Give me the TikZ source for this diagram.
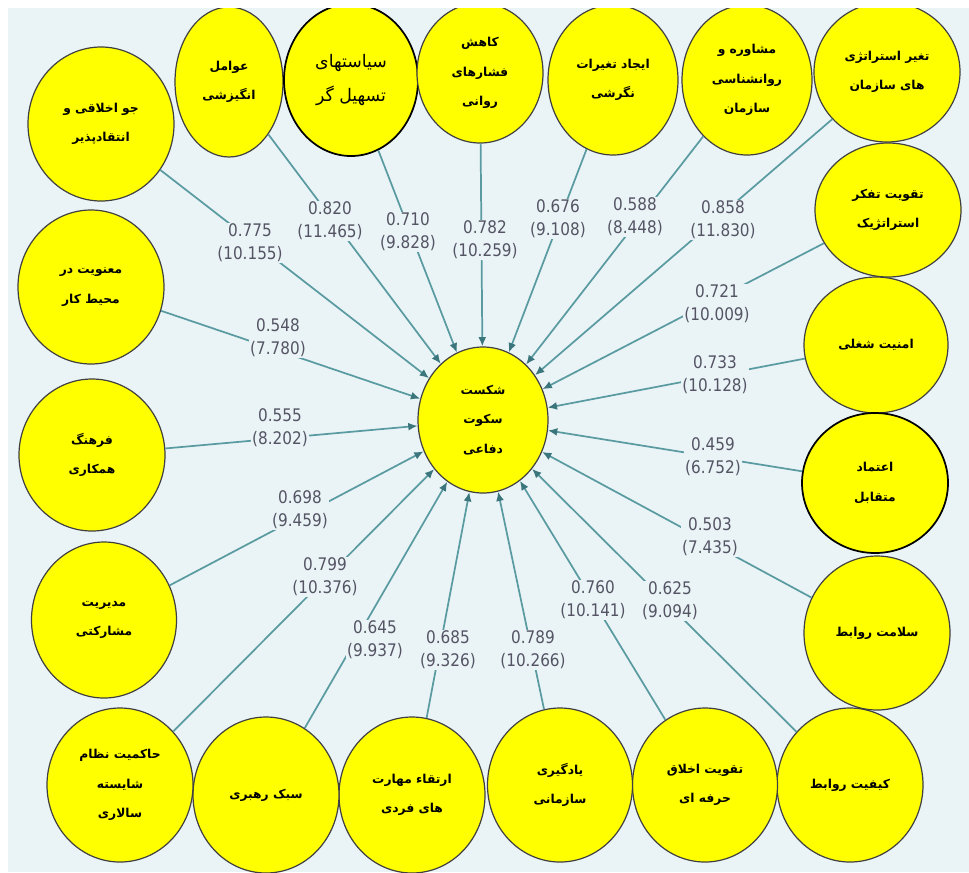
\documentclass[tikz,border=0pt]{standalone}
\usepackage{fontspec}
\usepackage{tikz}
\usetikzlibrary{shapes.geometric,arrows.meta}
\TeXXeTstate=1
\newfontfamily\farsifont[Script=Arabic]{DejaVu Sans}
\newfontfamily\zahlfont[FakeStretch=0.88]{DejaVu Sans}
\newcommand{\fatext}[1]{\beginR #1\endR}
\definecolor{hinter}{HTML}{EAF4F6}
\definecolor{pfad}{HTML}{5A9BA1}
\definecolor{spitze}{HTML}{3A767C}
\definecolor{wertgrau}{HTML}{545464}
\definecolor{gelb}{HTML}{FFFF00}

\begin{document}
\begin{tikzpicture}[x=0.75pt,y=-0.75pt,
        konstrukt/.style={ellipse,draw=black!75,line width=0.9pt,fill=gelb,
            inner sep=0pt,align=center,
            font=\farsifont\bfseries\fontsize{9.2}{22}\selectfont},
        gr/.style 2 args={minimum width=#1*0.75pt,minimum height=#2*0.75pt},
        pfeil/.style={draw=pfad,line width=1.3pt,
            -{Latex[length=7pt,width=6pt,color=spitze]}},
        koeff/.style={fill=hinter,inner sep=1pt,align=center,text=wertgrau,
            font=\zahlfont\fontsize{13}{17}\selectfont}
        ]
    \useasboundingbox (0,0) rectangle (969,872);
    \fill[white] (0,0) rectangle (969,872);
    \begin{scope}
        \clip (8,8) rectangle (969,872);
        \fill[hinter] (8,8) rectangle (969,872);

        % Konstrukte
        \node[konstrukt,gr={130}{146}] (SD) at (483,420)
            {\fatext{شکست}\\\fatext{سکوت}\\\fatext{دفاعی}};

        \node[konstrukt,gr={146}{154}] (K1) at (101,124)
            {\fatext{جو اخلاقی و}\\\fatext{انتقادپذیر}};
        \node[konstrukt,gr={108}{150}] (K2) at (229,82)
            {\fatext{عوامل}\\\fatext{انگیزشی}};
        \node[konstrukt,gr={134}{152},line width=1.3pt,draw=black,
            font=\farsifont\fontsize{13}{26}\selectfont] (K3) at (351,80)
            {\fatext{سیاستهای}\\\fatext{تسهیل گر}};
        \node[konstrukt,gr={126}{140}] (K4) at (480,73)
            {\fatext{کاهش}\\\fatext{فشارهای}\\\fatext{روانی}};
        \node[konstrukt,gr={130}{150}] (K5) at (613,80)
            {\fatext{ایجاد تغیرات}\\\fatext{نگرشی}};
        \node[konstrukt,gr={130}{150}] (K6) at (747,80)
            {\fatext{مشاوره و}\\\fatext{روانشناسی}\\\fatext{سازمان}};
        \node[konstrukt,gr={146}{140}] (K7) at (887,72)
            {\fatext{تغیر استراتژی}\\\fatext{های سازمان}};
        \node[konstrukt,gr={146}{134}] (K8) at (888,210)
            {\fatext{تقویت تفکر}\\\fatext{استراتژیک}};
        \node[konstrukt,gr={144}{136}] (K9) at (876,345)
            {\fatext{امنیت شغلی}};
        \node[konstrukt,gr={146}{140},line width=1.3pt,draw=black] (K10) at (875,483)
            {\fatext{اعتماد}\\\fatext{متقابل}};
        \node[konstrukt,gr={146}{154}] (K11) at (877,633)
            {\fatext{سلامت روابط}};
        \node[konstrukt,gr={146}{154}] (K12) at (850,785)
            {\fatext{کیفیت روابط}};
        \node[konstrukt,gr={145}{154}] (K13) at (705,785)
            {\fatext{تقویت اخلاق}\\\fatext{حرفه ای}};
        \node[konstrukt,gr={145}{154}] (K14) at (560,785)
            {\fatext{یادگیری}\\\fatext{سازمانی}};
        \node[konstrukt,gr={146}{156}] (K15) at (412,795)
            {\fatext{ارتقاء مهارت}\\\fatext{های فردی}};
        \node[konstrukt,gr={146}{156}] (K16) at (266,795)
            {\fatext{سبک رهبری}};
        \node[konstrukt,gr={146}{154}] (K17) at (120,785)
            {\fatext{حاکمیت نظام}\\\fatext{شایسته}\\\fatext{سالاری}};
        \node[konstrukt,gr={145}{156}] (K18) at (104,620)
            {\fatext{مدیریت}\\\fatext{مشارکتی}};
        \node[konstrukt,gr={146}{152}] (K19) at (92,455)
            {\fatext{فرهنگ}\\\fatext{همکاری}};
        \node[konstrukt,gr={146}{154}] (K20) at (91,287)
            {\fatext{معنویت در}\\\fatext{محیط کار}};

        % Pfade
        \draw[pfeil] (K1) -- (SD);
        \draw[pfeil] (K2) -- (SD);
        \draw[pfeil] (K3) -- (SD);
        \draw[pfeil] (K4) -- (SD);
        \draw[pfeil] (K5) -- (SD);
        \draw[pfeil] (K6) -- (SD);
        \draw[pfeil] (K7) -- (SD);
        \draw[pfeil] (K8) -- (SD);
        \draw[pfeil] (K9) -- (SD);
        \draw[pfeil] (K10) -- (SD);
        \draw[pfeil] (K11) -- (SD);
        \draw[pfeil] (K12) -- (SD);
        \draw[pfeil] (K13) -- (SD);
        \draw[pfeil] (K14) -- (SD);
        \draw[pfeil] (K15) -- (SD);
        \draw[pfeil] (K16) -- (SD);
        \draw[pfeil] (K17) -- (SD);
        \draw[pfeil] (K18) -- (SD);
        \draw[pfeil] (K19) -- (SD);
        \draw[pfeil] (K20) -- (SD);

        % Koeffizienten (t-Werte)
        \node[koeff] (W1) at (250,243) {0.775\\(10.155)};
        \node[koeff] (W2) at (330,221) {0.820\\(11.465)};
        \node[koeff] (W3) at (408,232) {0.710\\(9.828)};
        \node[koeff] (W4) at (485,240) {0.782\\(10.259)};
        \node[koeff] (W5) at (558,219) {0.676\\(9.108)};
        \node[koeff] (W6) at (635,217) {0.588\\(8.448)};
        \node[koeff] (W7) at (723,220) {0.858\\(11.830)};
        \node[koeff] (W8) at (717,304) {0.721\\(10.009)};
        \node[koeff] (W9) at (715,375) {0.733\\(10.128)};
        \node[koeff] (W10) at (713,457) {0.459\\(6.752)};
        \node[koeff] (W11) at (710,537) {0.503\\(7.435)};
        \node[koeff] (W12) at (670,601) {0.625\\(9.094)};
        \node[koeff] (W13) at (593,600) {0.760\\(10.141)};
        \node[koeff] (W14) at (533,650) {0.789\\(10.266)};
        \node[koeff] (W15) at (448,650) {0.685\\(9.326)};
        \node[koeff] (W16) at (375,640) {0.645\\(9.937)};
        \node[koeff] (W17) at (325,577) {0.799\\(10.376)};
        \node[koeff] (W18) at (300,510) {0.698\\(9.459)};
        \node[koeff] (W19) at (280,428) {0.555\\(8.202)};
        \node[koeff] (W20) at (278,338) {0.548\\(7.780)};
    \end{scope}
\end{tikzpicture}
\end{document}
